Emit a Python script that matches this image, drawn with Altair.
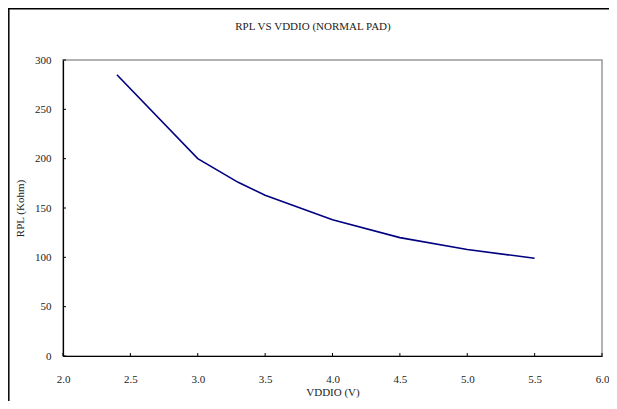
import altair as alt
import pandas as pd

# data
vddio = [2.4, 3.0, 3.3, 3.5, 4.0, 4.5, 5.0, 5.5]
rpl = [285, 200, 176, 163, 138, 120, 108, 99]
x_ticks = [2.0, 2.5, 3.0, 3.5, 4.0, 4.5, 5.0, 5.5, 6.0]
y_ticks = [0, 50, 100, 150, 200, 250, 300]
title_text = "RPL VS VDDIO (NORMAL PAD)"
x_title = "VDDIO (V)"
y_title = "RPL (Kohm)"

W, H = 539, 296
FONT = "Liberation Serif"

df = pd.DataFrame({"x": vddio, "y": rpl})
dfx = pd.DataFrame({"x": x_ticks})
dfy = pd.DataFrame({"y": y_ticks})

xscale = alt.Scale(domain=[2.0, 6.0], nice=False, zero=False)
yscale = alt.Scale(domain=[0, 300], nice=False)

line = alt.Chart(df).mark_line(color="#000080", strokeWidth=1.6).encode(
    x=alt.X("x:Q", scale=xscale,
            axis=alt.Axis(title=x_title, values=x_ticks, format=".1f",
                          labelFlush=False, labelPadding=17, titlePadding=2)),
    y=alt.Y("y:Q", scale=yscale,
            axis=alt.Axis(title=y_title, values=y_ticks, labelFlush=False,
                          labelPadding=12, titlePadding=9)),
)

xt = alt.Chart(dfx).mark_rule(color="black", strokeWidth=1).encode(
    x="x:Q", y=alt.value(H), y2=alt.value(H - 3)
)
yt = alt.Chart(dfy).mark_rule(color="black", strokeWidth=1).encode(
    y="y:Q", x=alt.value(0), x2=alt.value(3)
)

title = alt.Chart(pd.DataFrame({"t": [title_text]})).mark_text(
    font=FONT, fontSize=11, color="#222", align="center", baseline="middle"
).encode(x=alt.value(250), y=alt.value(-33.5), text="t:N")

# outer frame (top and left edges)
frame_top = alt.Chart(pd.DataFrame({"t": [0]})).mark_rule(color="black", strokeWidth=1.5).encode(
    x=alt.value(-55), x2=alt.value(W + 8), y=alt.value(-51.2)
)
frame_left = alt.Chart(pd.DataFrame({"t": [0]})).mark_rule(color="black", strokeWidth=1.5).encode(
    x=alt.value(-54.2), y=alt.value(-52), y2=alt.value(H + 45)
)

chart = alt.layer(frame_top, frame_left, line, xt, yt, title).properties(
    width=W, height=H,
    autosize=alt.AutoSizeParams(type="none"),
    padding={"left": 55, "top": 52, "right": 7, "bottom": 45},
).configure_view(
    stroke="#999999", strokeWidth=1.5
).configure_axis(
    grid=False, ticks=False, domainColor="black", domainWidth=1.2,
    labelFont=FONT, labelFontSize=11, labelColor="#222",
    titleFont=FONT, titleFontSize=11, titleColor="#222", titleFontWeight="normal",
)

chart.save("out.html", embed_options={"renderer": "svg", "actions": False})
